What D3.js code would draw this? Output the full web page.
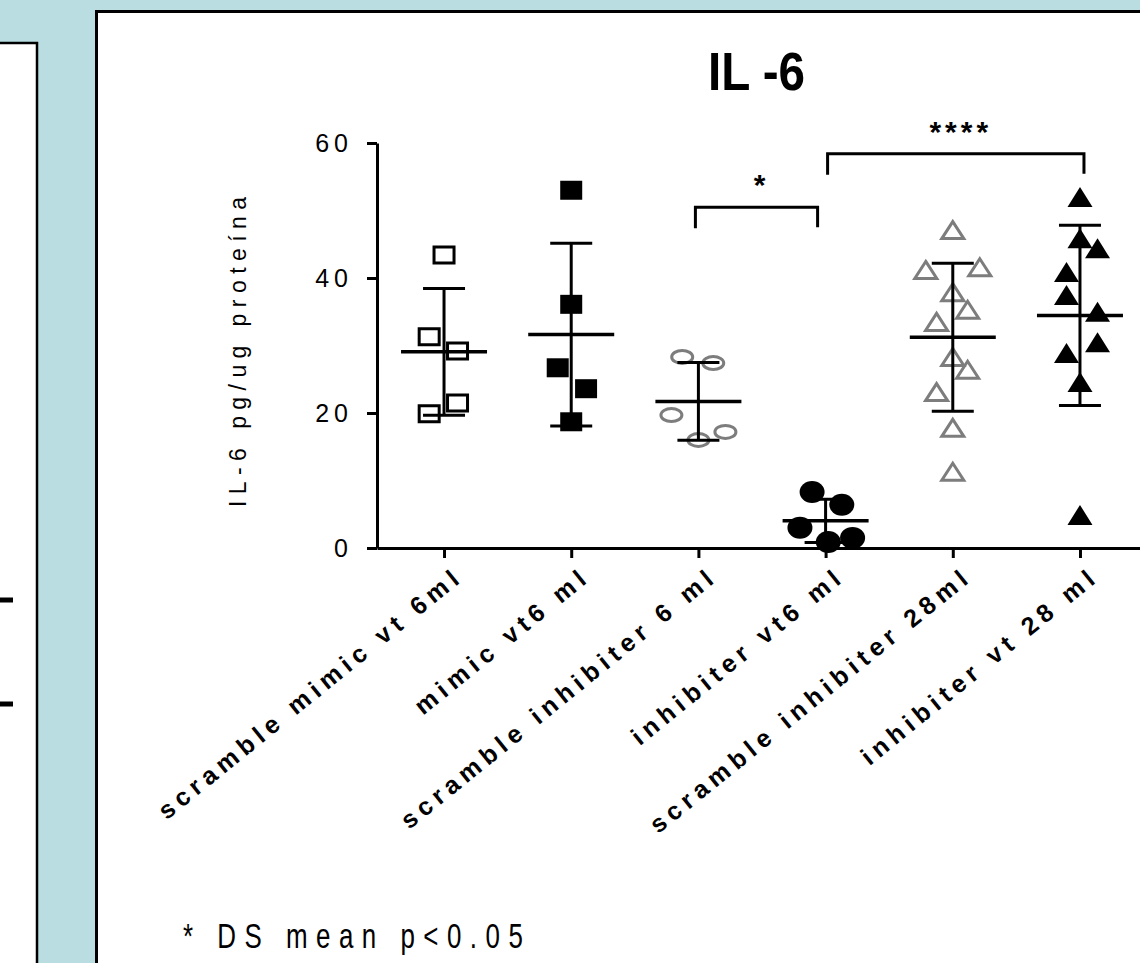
<!DOCTYPE html>
<html>
<head>
<meta charset="utf-8">
<script src="https://cdn.jsdelivr.net/npm/d3@7/dist/d3.min.js"></script>
<style>
  html, body { margin: 0; padding: 0; background: #b9dde1; }
  svg { display: block; }
  text { font-family: "Liberation Sans", Arial, sans-serif; fill: #000; }
</style>
</head>
<body>
<svg id="chart" width="1140" height="963"></svg>
<script>
// ---- data ----
const groups = [
  "scramble mimic vt 6ml",
  "mimic vt6 ml",
  "scramble inhibiter 6 ml",
  "inhibiter vt6 ml",
  "scramble inhibiter 28ml",
  "inhibiter vt 28 ml"
];
const values = [
  [43.4, 31.3, 29.2, 21.5, 19.9],
  [53.0, 36.1, 26.7, 23.6, 18.7],
  [28.3, 27.4, 19.7, 16.0, 17.2],
  [8.3, 6.4, 3.0, 0.9, 1.5],
  [47.1, 41.2, 41.6, 37.9, 35.3, 33.5, 28.3, 26.4, 23.1, 17.8, 11.3],
  [52.0, 45.9, 44.4, 40.9, 37.5, 35.0, 30.5, 28.9, 24.6, 4.9]
];
// column-scatter slot of each point (-1 left ... +1 right)
const lanes = [
  [0, -0.55, 0.5, 0.5, -0.55],
  [0, 0, -0.5, 0.55, 0],
  [-0.6, 0.55, -1, 0, 1],
  [-0.5, 0.6, -0.95, 0.1, 1],
  [0, -1, 1, 0, 0.55, -0.6, 0, 0.55, -0.6, 0, 0],
  [0, 0, 0.65, -0.5, -0.5, 0.65, 0.65, -0.5, 0, 0]
];
const yTicks = [0, 20, 40, 60];
const bracketFrom = [2, 3];
const bracketTo = [3, 5];
const bracketLevel = [50.5, 58.4];
const bracketLabel = ["*", "****"];

// ---- styles ----
const markerStyle = [
  { shape: "square",   w: 20, h: 16, fill: "none", stroke: "#000" },
  { shape: "square",   w: 22, h: 19, fill: "#000", stroke: "none" },
  { shape: "ellipse",  w: 21, h: 13, fill: "none", stroke: "#7d7d7d" },
  { shape: "ellipse",  w: 25, h: 22, fill: "#000", stroke: "none" },
  { shape: "triangle", w: 22, h: 17, fill: "none", stroke: "#7d7d7d" },
  { shape: "triangle", w: 25, h: 20, fill: "#000", stroke: "none" }
];
const bracketInset = [[-3, -8], [2, 4]];

const W = 1140, H = 963;
const svg = d3.select("#chart");

// backdrop: blue page, cropped neighbour panel, main white panel
svg.append("rect").attr("width", W).attr("height", H).attr("fill", "#b9dde1");
svg.append("rect")
  .attr("x", -10).attr("y", 43).attr("width", 47).attr("height", 1000)
  .attr("fill", "#fff").attr("stroke", "#000").attr("stroke-width", 2.5);
svg.append("g").selectAll("rect")
  .data([600, 704])
  .join("rect")
  .attr("x", 0).attr("y", d => d - 2.5).attr("width", 13).attr("height", 5)
  .attr("fill", "#000");
svg.append("rect")
  .attr("x", 96.5).attr("y", 11.5).attr("width", 1100).attr("height", 1000)
  .attr("fill", "#fff").attr("stroke", "#000").attr("stroke-width", 3);

// scales
const y = d3.scaleLinear().domain([0, 60]).range([548, 143]);
const x = d3.scalePoint().domain(groups).range([377, 1147]).padding(0.527);
const laneX = d3.scaleLinear().domain([-1, 1]).range([-27, 27]);

// y axis
const yAxis = svg.append("g")
  .attr("transform", "translate(377,0)")
  .call(d3.axisLeft(y).tickValues(yTicks).tickSize(10).tickSizeOuter(0).tickPadding(14));
yAxis.select(".domain").attr("stroke-width", 3);
yAxis.selectAll(".tick line").attr("stroke-width", 3);
yAxis.selectAll(".tick text")
  .attr("font-size", 25).attr("letter-spacing", 5)
  .attr("font-family", "'Liberation Sans', Arial, sans-serif");

// x axis
const xAxis = svg.append("g")
  .attr("transform", "translate(0,548)")
  .call(d3.axisBottom(x).tickSize(10).tickSizeOuter(0));
xAxis.select(".domain").attr("stroke-width", 3);
xAxis.selectAll(".tick line").attr("stroke-width", 3);
xAxis.selectAll(".tick text")
  .attr("font-size", 25).attr("font-weight", "bold").attr("letter-spacing", 5.5)
  .attr("font-family", "'Liberation Sans', Arial, sans-serif")
  .attr("text-anchor", "end")
  .attr("transform", "translate(9,17) rotate(-39)")
  .attr("x", 0).attr("y", 0).attr("dy", "0.72em");

// points
const points = [];
groups.forEach((g, i) => {
  values[i].forEach((v, j) => points.push({ g: i, v: v, lane: lanes[i][j] }));
});

function markerPath(s) {
  const p = d3.path();
  const w = s.w / 2, h = s.h / 2;
  if (s.shape === "square") {
    p.rect(-w, -h, s.w, s.h);
  } else if (s.shape === "triangle") {
    p.moveTo(0, -h); p.lineTo(w, h); p.lineTo(-w, h); p.closePath();
  }
  return p.toString();
}

const pts = svg.append("g");
pts.selectAll("path")
  .data(points.filter(d => markerStyle[d.g].shape !== "ellipse"))
  .join("path")
  .attr("transform", d => `translate(${x(groups[d.g]) + laneX(d.lane)},${y(d.v)})`)
  .attr("d", d => markerPath(markerStyle[d.g]))
  .attr("fill", d => markerStyle[d.g].fill)
  .attr("stroke", d => markerStyle[d.g].stroke)
  .attr("stroke-width", 3)
  .attr("stroke-linejoin", "miter");
pts.selectAll("ellipse")
  .data(points.filter(d => markerStyle[d.g].shape === "ellipse"))
  .join("ellipse")
  .attr("cx", d => x(groups[d.g]) + laneX(d.lane))
  .attr("cy", d => y(d.v))
  .attr("rx", d => markerStyle[d.g].w / 2)
  .attr("ry", d => markerStyle[d.g].h / 2)
  .attr("fill", d => markerStyle[d.g].fill)
  .attr("stroke", d => markerStyle[d.g].stroke)
  .attr("stroke-width", 3);

// mean +/- SD
const stats = groups.map((g, i) => ({
  g: g, m: d3.mean(values[i]), s: d3.deviation(values[i])
}));
const err = svg.append("g").attr("stroke", "#000").attr("stroke-width", 3);
err.selectAll(".sd")
  .data(stats).join("line").attr("class", "sd")
  .attr("x1", d => x(d.g)).attr("x2", d => x(d.g))
  .attr("y1", d => y(d.m + d.s)).attr("y2", d => y(d.m - d.s));
err.selectAll(".capHi")
  .data(stats).join("line").attr("class", "capHi")
  .attr("x1", d => x(d.g) - 21).attr("x2", d => x(d.g) + 21)
  .attr("y1", d => y(d.m + d.s)).attr("y2", d => y(d.m + d.s));
err.selectAll(".capLo")
  .data(stats).join("line").attr("class", "capLo")
  .attr("x1", d => x(d.g) - 21).attr("x2", d => x(d.g) + 21)
  .attr("y1", d => y(d.m - d.s)).attr("y2", d => y(d.m - d.s));
err.selectAll(".mean")
  .data(stats).join("line").attr("class", "mean")
  .attr("x1", d => x(d.g) - 43).attr("x2", d => x(d.g) + 43)
  .attr("y1", d => y(d.m)).attr("y2", d => y(d.m))
  .attr("stroke-width", 3.5);

// significance brackets
const br = bracketLevel.map((lv, i) => ({
  x1: x(groups[bracketFrom[i]]) + bracketInset[i][0],
  x2: x(groups[bracketTo[i]]) + bracketInset[i][1],
  yy: y(lv), label: bracketLabel[i]
}));
svg.append("g").selectAll("path")
  .data(br).join("path")
  .attr("d", d => `M${d.x1},${d.yy + 21}V${d.yy}H${d.x2}V${d.yy + 20}`)
  .attr("fill", "none").attr("stroke", "#000").attr("stroke-width", 3);
svg.append("g").selectAll("text")
  .data(br).join("text")
  .attr("x", d => (d.x1 + d.x2) / 2 + 5)
  .attr("y", d => d.yy - 12)
  .attr("text-anchor", "middle")
  .attr("font-size", 30).attr("font-weight", "bold").attr("letter-spacing", 4)
  .text(d => d.label);

// title
svg.append("text")
  .attr("x", 708).attr("y", 90)
  .attr("font-size", 54).attr("font-weight", "bold")
  .attr("textLength", 97).attr("lengthAdjust", "spacingAndGlyphs")
  .text("IL -6");

// y axis label
svg.append("text")
  .attr("transform", "translate(246,352) rotate(-90)")
  .attr("text-anchor", "middle")
  .attr("font-size", 23)
  .attr("textLength", 310).attr("lengthAdjust", "spacing")
  .text("IL-6 pg/ug proteína");

// footnote
svg.append("text")
  .attr("transform", "translate(183,948) scale(0.72,1)")
  .attr("font-size", 36)
  .attr("textLength", 472).attr("lengthAdjust", "spacing")
  .text("* DS mean p<0.05");
</script>
</body>
</html>
